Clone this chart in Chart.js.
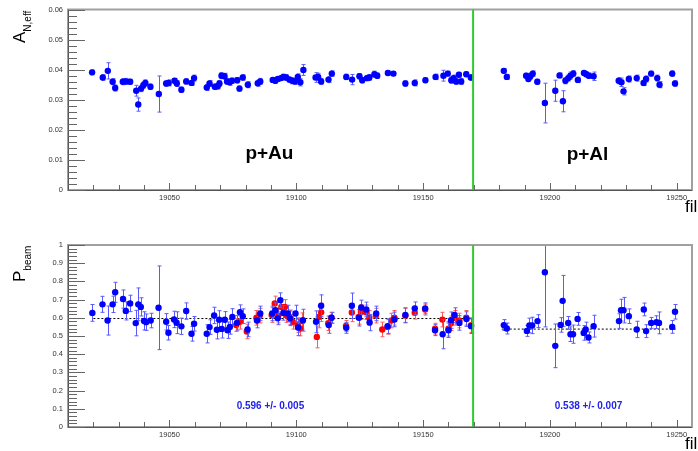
<!DOCTYPE html>
<html><head><meta charset="utf-8">
<script src="https://cdn.jsdelivr.net/npm/chart.js@4/dist/chart.umd.min.js"></script>
<style>
html,body{margin:0;padding:0;background:#fff;}
#wrap{position:relative;width:698px;height:451px;overflow:hidden;background:#fff;}
#c1{position:absolute;left:0;top:0;}
#c2{position:absolute;left:0;top:225px;}
</style></head><body>
<div id="wrap"><canvas id="c1" width="698" height="225"></canvas><canvas id="c2" width="698" height="226"></canvas></div>
<script>
// ---------- data ----------
const xTickVals = [19050, 19100, 19150, 19200, 19250];
const anTickVals = [0, 0.01, 0.02, 0.03, 0.04, 0.05, 0.06];
const pTickVals = [0, 0.1, 0.2, 0.3, 0.4, 0.5, 0.6, 0.7, 0.8, 0.9, 1];
const boundaryFill = 19169.7;
const systemLabels = ["p+Au", "p+Al"];
const fitValues = [0.596, 0.538];
const fitErrors = [0.005, 0.007];
const fitStart = [19020, 19181];
const fitEnd = [19169, 19250];

const anFill = [19019.5,19023.7,19025.7,19027.6,19028.6,19031.6,19032.7,19034.5,19036.9,19037.7,19038.8,19039.7,19040.5,19042.5,19045.8,19048.7,19049.7,19052.0,19052.9,19054.7,19056.6,19058.7,19059.7,19064.7,19065.8,19067.9,19069.0,19069.7,19070.5,19071.7,19072.7,19073.7,19074.6,19076.7,19077.6,19078.9,19080.9,19084.8,19085.8,19090.7,19091.7,19092.7,19094.0,19094.9,19096.0,19097.3,19098.4,19099.4,19100.6,19101.6,19102.8,19107.6,19108.6,19109.8,19112.7,19114.0,19119.7,19122.0,19124.9,19126.0,19127.8,19128.8,19130.8,19131.9,19136.1,19138.3,19143.0,19146.7,19150.9,19154.9,19158.0,19159.7,19161.1,19162.0,19163.0,19164.1,19165.0,19167.0,19168.8,19181.8,19183.0,19190.6,19191.5,19192.3,19193.2,19195.0,19198.0,19202.1,19203.8,19205.1,19206.1,19207.2,19208.1,19209.2,19211.0,19213.4,19214.3,19215.3,19217.2,19227.1,19228.2,19229.0,19231.1,19234.2,19236.9,19237.9,19239.9,19242.3,19243.2,19248.2,19249.3];
const anVal = [.0391,.0374,.0396,.0360,.0339,.0360,.0361,.0360,.0330,.0284,.0337,.0348,.0356,.0343,.0319,.0354,.0356,.0363,.0354,.0333,.0361,.0356,.0372,.0341,.0354,.0343,.0345,.0354,.0380,.0378,.0361,.0358,.0363,.0365,.0337,.0374,.0350,.0355,.0361,.0366,.0363,.0369,.0372,.0376,.0374,.0367,.0363,.0361,.0376,.0358,.0399,.0374,.0376,.0361,.0367,.0387,.0376,.0367,.0378,.0365,.0372,.0374,.0385,.0380,.0389,.0387,.0354,.0356,.0365,.0376,.0380,.0387,.0365,.0372,.0361,.0383,.0361,.0385,.0374,.0396,.0376,.0380,.0369,.0378,.0387,.0360,.0289,.0330,.0381,.0295,.0363,.0372,.0380,.0387,.0366,.0389,.0385,.0380,.0378,.0363,.0358,.0328,.0369,.0372,.0356,.0369,.0387,.0372,.0350,.0387,.0354];
const anErr = [.0008,.0009,.0027,.0010,.0010,.0010,.0010,.0008,.0018,.0022,.0010,.0010,.0010,.0009,.0060,.0009,.0010,.0008,.0010,.0009,.0009,.0008,.0010,.0010,.0010,.0009,.0009,.0010,.0010,.0010,.0010,.0010,.0009,.0009,.0009,.0009,.0010,.0010,.0010,.0008,.0009,.0008,.0008,.0009,.0010,.0009,.0010,.0010,.0010,.0012,.0018,.0016,.0012,.0010,.0010,.0009,.0009,.0017,.0009,.0009,.0009,.0010,.0010,.0009,.0007,.0007,.0009,.0010,.0008,.0009,.0018,.0008,.0010,.0010,.0010,.0008,.0010,.0008,.0009,.0008,.0008,.0008,.0008,.0010,.0009,.0008,.0066,.0035,.0008,.0035,.0010,.0010,.0012,.0010,.0009,.0008,.0008,.0009,.0014,.0010,.0014,.0012,.0010,.0010,.0009,.0010,.0008,.0010,.0010,.0009,.0009];

const pFill = [19019.6,19023.6,19025.6,19027.6,19028.6,19031.7,19032.8,19034.5,19036.7,19037.7,19038.7,19040.0,19040.8,19042.6,19045.7,19048.7,19049.6,19051.8,19052.8,19054.7,19056.6,19058.7,19059.7,19064.7,19065.8,19067.6,19068.7,19069.6,19070.6,19071.8,19072.9,19073.8,19074.8,19076.6,19077.8,19078.9,19080.8,19084.5,19085.8,19090.5,19091.8,19092.7,19093.7,19094.9,19096.6,19097.5,19099.7,19100.7,19102.6,19107.8,19109.8,19112.8,19113.9,19119.7,19121.9,19124.7,19125.6,19127.6,19128.9,19131.5,19136.0,19138.7,19143.0,19146.7,19150.8,19154.7,19157.7,19160.0,19161.0,19162.4,19164.3,19167.1,19168.9,19181.8,19183.0,19190.9,19191.9,19193.0,19195.1,19198.0,19202.1,19204.2,19205.0,19207.2,19208.1,19209.1,19210.9,19213.3,19214.1,19215.2,19217.2,19227.2,19228.0,19229.0,19231.1,19234.2,19237.0,19237.9,19239.9,19242.0,19243.0,19248.2,19249.3];
const pVal = [.627,.674,.585,.674,.740,.703,.638,.679,.571,.674,.660,.583,.576,.585,.655,.578,.518,.591,.573,.553,.637,.512,.567,.512,.549,.613,.534,.589,.539,.589,.532,.550,.605,.572,.631,.609,.536,.585,.624,.624,.642,.597,.697,.627,.624,.597,.624,.547,.587,.578,.666,.560,.600,.545,.666,.600,.657,.646,.574,.624,.554,.591,.615,.652,.652,.532,.510,.532,.587,.615,.572,.593,.554,.560,.541,.528,.558,.558,.582,.850,.446,.561,.693,.572,.510,.510,.594,.517,.536,.492,.554,.582,.642,.642,.609,.536,.646,.527,.572,.576,.572,.550,.633];
const pErr = [.046,.044,.08,.045,.055,.05,.05,.045,.07,.09,.05,.05,.045,.04,.23,.045,.04,.045,.06,.045,.045,.04,.04,.05,.04,.045,.05,.05,.05,.045,.045,.04,.045,.04,.04,.04,.04,.04,.04,.04,.04,.035,.04,.04,.045,.04,.045,.045,.06,.06,.06,.045,.03,.03,.07,.045,.04,.04,.045,.04,.04,.04,.04,.035,.03,.03,.08,.04,.045,.04,.04,.04,.04,.03,.03,.03,.04,.045,.035,.30,.12,.04,.14,.035,.04,.05,.035,.04,.04,.03,.06,.04,.06,.07,.04,.045,.035,.035,.03,.035,.06,.035,.04];

const pRedFill = [19076.3,19077.8,19080.5,19084.3,19085.6,19090.3,19091.5,19092.9,19094.1,19095.5,19095.9,19097.4,19098.6,19100.5,19101.5,19102.4,19108.1,19108.9,19109.8,19112.6,19113.8,19119.6,19121.9,19124.6,19125.5,19127.5,19128.8,19131.4,19133.9,19136.0,19137.5,19138.7,19143.0,19146.7,19150.8,19154.7,19157.6,19160.0,19161.0,19162.4,19164.3,19167.0,19168.9];
const pRedVal = [.560,.578,.525,.600,.612,.615,.679,.612,.660,.660,.615,.603,.578,.560,.541,.582,.495,.605,.630,.570,.600,.555,.629,.605,.632,.630,.600,.612,.536,.550,.585,.600,.612,.628,.645,.540,.590,.540,.570,.600,.585,.600,.560];
const pRedErr = [.035,.04,.04,.04,.04,.04,.04,.04,.04,.04,.04,.04,.04,.04,.04,.045,.06,.06,.05,.04,.03,.03,.05,.04,.04,.04,.04,.04,.04,.04,.04,.04,.04,.035,.03,.03,.04,.04,.04,.04,.04,.04,.04];

// ---------- helpers ----------
const FONT = "'Liberation Sans', Arial, Helvetica, sans-serif";
const pts = (xs, ys) => xs.map((x, i) => ({x: x, y: ys[i]}));
const fmt = v => String(parseFloat(Number(v).toFixed(3)));

function makePanel(cfg) {
  return {
    id: 'panel' + cfg.name,
    beforeDatasetDraw(chart, args) {
      const ds = chart.data.datasets[args.index];
      if (!ds.errs) return;
      const {ctx, chartArea: a, scales: {x, y}} = chart;
      ctx.save();
      ctx.beginPath(); ctx.rect(a.left, a.top, a.right - a.left, a.bottom - a.top); ctx.clip();
      ctx.strokeStyle = ds.errColor; ctx.lineWidth = 1;
      ds.data.forEach((p, i) => {
        const e = ds.errs[i];
        const px = Math.round(x.getPixelForValue(p.x)) + 0.5;
        const y1 = y.getPixelForValue(p.y + e), y2 = y.getPixelForValue(p.y - e);
        ctx.beginPath();
        ctx.moveTo(px, y1); ctx.lineTo(px, y2);
        ctx.moveTo(px - 2, y1); ctx.lineTo(px + 2, y1);
        ctx.moveTo(px - 2, y2); ctx.lineTo(px + 2, y2);
        ctx.stroke();
      });
      ctx.restore();
    },
    afterDraw(chart) {
      const {ctx, chartArea: a, scales: {x, y}} = chart;
      ctx.save();
      // frame
      ctx.strokeStyle = '#a0a0a0'; ctx.lineWidth = 2;
      ctx.strokeRect(a.left, a.top, a.right - a.left, a.bottom - a.top);
      ctx.strokeStyle = '#555'; ctx.lineWidth = 1;
      ctx.beginPath();
      ctx.moveTo(a.left + 0.5, a.top); ctx.lineTo(a.left + 0.5, a.bottom + 0.5);
      ctx.lineTo(a.right, a.bottom + 0.5);
      ctx.stroke();
      // y ticks (inward)
      ctx.strokeStyle = '#666'; ctx.lineWidth = 1;
      ctx.beginPath();
      const nMinor = Math.round(cfg.yMax / cfg.yMinor);
      for (let i = 0; i <= nMinor; i++) {
        const v = i * cfg.yMinor;
        const isMajor = (i % cfg.minorPerMajor) === 0;
        const py = Math.round(y.getPixelForValue(v)) + 0.5;
        ctx.moveTo(a.left, py); ctx.lineTo(a.left + (isMajor ? 17 : 9), py);
      }
      // x ticks (upward)
      for (let v = 19020; v <= 19250; v += 10) {
        const isMajor = v % 50 === 0;
        const px = Math.round(x.getPixelForValue(v)) + 0.5;
        ctx.moveTo(px, a.bottom); ctx.lineTo(px, a.bottom - (isMajor ? 7 : 5));
      }
      ctx.stroke();
      // boundary line
      ctx.strokeStyle = '#2ecc2e'; ctx.lineWidth = 2;
      const gx = x.getPixelForValue(boundaryFill);
      ctx.beginPath(); ctx.moveTo(gx, a.top); ctx.lineTo(gx, a.bottom); ctx.stroke();
      // texts in data coords
      cfg.texts.forEach(t => {
        ctx.font = t.font; ctx.fillStyle = t.color;
        ctx.textAlign = 'center'; ctx.textBaseline = 'middle';
        ctx.fillText(t.text, x.getPixelForValue(t.x), y.getPixelForValue(t.y));
      });
      // axis title (rotated)
      ctx.save();
      ctx.translate(cfg.title.x, cfg.title.y);
      ctx.rotate(-Math.PI / 2);
      ctx.fillStyle = '#000'; ctx.textAlign = 'left'; ctx.textBaseline = 'alphabetic';
      ctx.font = '17px ' + FONT;
      ctx.fillText(cfg.title.main, 0, 0);
      const w = ctx.measureText(cfg.title.main).width;
      ctx.font = '10px ' + FONT;
      ctx.fillText(cfg.title.sub, w, 6);
      ctx.restore();
      // x title (cut at edge)
      ctx.font = '17px ' + FONT; ctx.fillStyle = '#000';
      ctx.textAlign = 'left'; ctx.textBaseline = 'alphabetic';
      ctx.fillText('fil', cfg.fil.x, cfg.fil.y);
      ctx.restore();
    }
  };
}

function scalesFor(yMin, yMax, yTicks, xHeight) {
  return {
    x: {
      type: 'linear', min: 19010, max: 19256,
      grid: {display: false, drawTicks: false}, border: {display: false},
      ticks: {font: {size: 7.5, family: FONT}, color: '#333', maxRotation: 0, padding: 3, callback: v => String(v)},
      afterBuildTicks: s => { s.ticks = xTickVals.map(v => ({value: v})); },
      afterFit: s => { s.height = xHeight; }
    },
    y: {
      type: 'linear', min: yMin, max: yMax,
      grid: {display: false, drawTicks: false}, border: {display: false},
      ticks: {font: {size: 7.5, family: FONT}, color: '#333', padding: 5, callback: v => fmt(v)},
      afterBuildTicks: s => { s.ticks = yTicks.map(v => ({value: v})); },
      afterFit: s => { s.width = 68; }
    }
  };
}

const commonOpts = {
  responsive: false, animation: false, events: [],
  plugins: {legend: {display: false}, tooltip: {enabled: false}}
};

// ---------- top chart ----------
new Chart(document.getElementById('c1'), {
  type: 'scatter',
  data: {datasets: [{
    data: pts(anFill, anVal), errs: anErr, errColor: '#5a5aff',
    pointRadius: 3.2, pointBackgroundColor: '#0000ff', pointBorderWidth: 0, showLine: false
  }]},
  options: Object.assign({}, commonOpts, {
    layout: {padding: {top: 7, right: 6, left: 0, bottom: 0}},
    scales: scalesFor(0, 0.06, anTickVals, 35)
  }),
  plugins: [makePanel({
    name: 'top', yMax: 0.06, yMinor: 0.002, minorPerMajor: 5,
    texts: [
      {text: systemLabels[0], x: 19089.4, y: 0.0121, font: 'bold 19px ' + FONT, color: '#000'},
      {text: systemLabels[1], x: 19214.8, y: 0.0118, font: 'bold 19px ' + FONT, color: '#000'}
    ],
    title: {main: 'A', sub: 'N,eff', x: 25, y: 43},
    fil: {x: 685, y: 212}
  })]
});

// ---------- bottom chart ----------
const fitDatasets = fitValues.map((v, i) => ({
  type: 'line', data: [{x: fitStart[i], y: v}, {x: fitEnd[i], y: v}],
  borderColor: '#000', borderWidth: 1, borderDash: [2, 2], pointRadius: 0, order: 3
}));
new Chart(document.getElementById('c2'), {
  type: 'scatter',
  data: {datasets: [
    {data: pts(pFill, pVal), errs: pErr, errColor: '#5a5aff', pointRadius: 3.2,
     pointBackgroundColor: '#0000ff', pointBorderWidth: 0, showLine: false, order: 1},
    {data: pts(pRedFill, pRedVal), errs: pRedErr, errColor: '#ff5a5a', pointRadius: 3.2,
     pointBackgroundColor: '#ff0000', pointBorderWidth: 0, showLine: false, order: 2}
  ].concat(fitDatasets)},
  options: Object.assign({}, commonOpts, {
    layout: {padding: {top: 20, right: 6, left: 0, bottom: 0}},
    scales: scalesFor(0, 1, pTickVals, 24)
  }),
  plugins: [makePanel({
    name: 'bot', yMax: 1, yMinor: 0.02, minorPerMajor: 5,
    texts: [
      {text: fitValues[0] + ' +/- ' + fitErrors[0].toFixed(3), x: 19089.8, y: 0.114, font: 'bold 10px ' + FONT, color: '#2222ee'},
      {text: fitValues[1] + ' +/- ' + fitErrors[1].toFixed(3), x: 19215.2, y: 0.114, font: 'bold 10px ' + FONT, color: '#2222ee'}
    ],
    title: {main: 'P', sub: 'beam', x: 25, y: 57},
    fil: {x: 685, y: 224}
  })]
});
</script>
</body></html>
